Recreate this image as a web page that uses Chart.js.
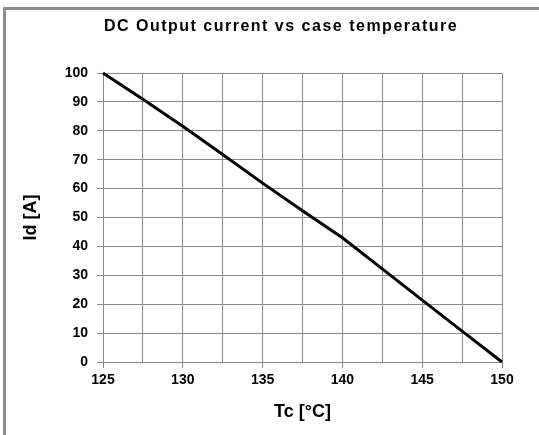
<!DOCTYPE html>
<html>
<head>
<meta charset="utf-8">
<script src="https://cdn.jsdelivr.net/npm/chart.js@4/dist/chart.umd.min.js"></script>
<style>
  html, body { margin: 0; padding: 0; background: #ffffff; }
  #wrap { width: 539px; height: 435px; position: relative; }
</style>
</head>
<body>
<div id="wrap"><canvas id="c" width="539" height="435"></canvas></div>
<script>
// ---- data ----
const chartTitle = 'DC Output current vs case temperature';
const xTitle = 'Tc [°C]';
const yTitle = 'Id [A]';
const caseTemp = [125, 127.5, 130, 132.5, 135, 137.5, 140, 142.5, 145, 147.5, 150];
const outputCurrent = [100, 90.9, 81.6, 71.8, 61.9, 52.3, 43, 32.2, 21.4, 10.7, 0];
const xMin = 125, xMax = 150, xStep = 2.5, xLabelEvery = 5;
const yMin = 0, yMax = 100, yStep = 10;

const gridColor = '#8a8a8a';
const fontFamily = '"Liberation Sans", Arial, sans-serif';

const framePlugin = {
  id: 'frameAndTitle',
  beforeDraw(chart) {
    const ctx = chart.ctx;
    ctx.save();
    ctx.fillStyle = '#ffffff';
    ctx.fillRect(0, 0, chart.width, chart.height);
    ctx.fillStyle = '#8c8c8c';
    ctx.fillRect(3, 7, chart.width, 3);
    ctx.fillRect(3, 7, 3, chart.height);
    ctx.restore();
  },
  afterDraw(chart) {
    const ctx = chart.ctx;
    ctx.save();
    ctx.fillStyle = '#000000';
    ctx.font = 'bold 16px ' + fontFamily;
    if ('letterSpacing' in ctx) ctx.letterSpacing = '1.5px';
    ctx.textAlign = 'center';
    ctx.textBaseline = 'alphabetic';
    ctx.fillText(chartTitle, 281, 31);
    ctx.restore();
  }
};

new Chart(document.getElementById('c'), {
  type: 'line',
  data: {
    datasets: [{
      data: caseTemp.map((t, i) => ({ x: t, y: outputCurrent[i] })),
      borderColor: '#000000',
      borderWidth: 3,
      pointRadius: 0,
      tension: 0,
      fill: false,
      clip: false
    }]
  },
  options: {
    responsive: false,
    animation: false,
    devicePixelRatio: 1,
    layout: { padding: { left: 10, top: 73, right: 37, bottom: 0 } },
    plugins: {
      legend: { display: false },
      title: { display: false },
      tooltip: { enabled: false }
    },
    scales: {
      x: {
        type: 'linear',
        min: xMin, max: xMax,
        afterFit(s) { s.height = 73; },
        ticks: {
          stepSize: xStep,
          autoSkip: false,
          maxRotation: 0,
          padding: 4,
          color: '#000000',
          font: { family: fontFamily, size: 14, weight: 'bold' },
          callback: (v) => (v % xLabelEvery === 0 ? String(v) : '')
        },
        grid: {
          color: gridColor,
          lineWidth: 1,
          tickLength: 6,
          tickColor: (ctx) => (ctx.tick && ctx.tick.value % xLabelEvery === 0 ? gridColor : 'rgba(0,0,0,0)')
        },
        border: { color: gridColor, width: 1 },
        title: {
          display: true,
          text: xTitle,
          color: '#000000',
          font: { family: fontFamily, size: 18, weight: 'bold' },
          padding: { top: 0, bottom: 12 }
        }
      },
      y: {
        min: yMin, max: yMax,
        afterFit(s) { s.width = 93; },
        ticks: {
          stepSize: yStep,
          padding: 9,
          color: '#000000',
          font: { family: fontFamily, size: 14, weight: 'bold' }
        },
        grid: { color: gridColor, lineWidth: 1, tickLength: 6, tickColor: gridColor },
        border: { color: gridColor, width: 1 },
        title: {
          display: true,
          text: yTitle,
          color: '#000000',
          font: { family: fontFamily, size: 18, weight: 'bold' },
          padding: { top: 10, bottom: 0 }
        }
      }
    }
  },
  plugins: [framePlugin]
});
</script>
</body>
</html>
